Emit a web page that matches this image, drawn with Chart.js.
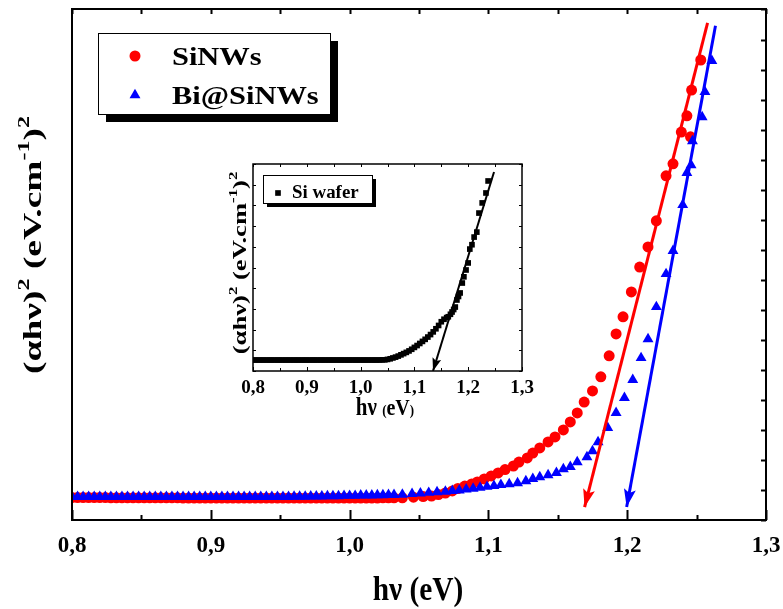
<!DOCTYPE html>
<html>
<head>
<meta charset="utf-8">
<script src="https://cdn.jsdelivr.net/npm/chart.js@4.4.0/dist/chart.umd.min.js"></script>
<style>
  html, body { margin: 0; padding: 0; background: #fff; }
  #wrap { position: relative; width: 783px; height: 609px; }
  #main { position: absolute; left: 0; top: 0; }
  #inset { position: absolute; left: 200px; top: 150px; }
</style>
</head>
<body>
<div id="wrap">
  <canvas id="main" width="783" height="609"></canvas>
  <canvas id="inset" width="340" height="270"></canvas>
</div>
<script>
// ---- main plot data (hv in eV, (alpha hv)^2 in arbitrary units) ----
const flatEnergy = [
  0.800, 0.804, 0.808, 0.812, 0.816, 0.820, 0.824, 0.828, 0.832, 0.836,
  0.840, 0.844, 0.848, 0.852, 0.856, 0.860, 0.864, 0.868, 0.872, 0.876,
  0.880, 0.884, 0.888, 0.892, 0.896, 0.900, 0.904, 0.908, 0.912, 0.916,
  0.920, 0.924, 0.928, 0.932, 0.936, 0.940, 0.944, 0.948, 0.952, 0.956,
  0.960, 0.964, 0.968, 0.972, 0.976, 0.980, 0.984, 0.988, 0.992, 0.996,
  1.000, 1.004, 1.008, 1.012, 1.016, 1.020, 1.024, 1.028, 1.032
];
const siNWsFlat = [
  0.75, 0.75, 0.75, 0.75, 0.75, 0.75, 0.75, 0.74, 0.74, 0.74,
  0.74, 0.74, 0.74, 0.74, 0.74, 0.74, 0.74, 0.74, 0.74, 0.74,
  0.73, 0.73, 0.73, 0.73, 0.73, 0.73, 0.73, 0.73, 0.73, 0.73,
  0.73, 0.73, 0.73, 0.73, 0.73, 0.73, 0.73, 0.73, 0.73, 0.73,
  0.73, 0.73, 0.73, 0.73, 0.73, 0.73, 0.73, 0.73, 0.73, 0.73,
  0.73, 0.73, 0.73, 0.73, 0.73, 0.73, 0.74, 0.74, 0.74
];
const biFlat = [
  0.77, 0.77, 0.77, 0.77, 0.77, 0.77, 0.77, 0.77, 0.77, 0.77,
  0.77, 0.77, 0.77, 0.77, 0.77, 0.77, 0.77, 0.77, 0.77, 0.77,
  0.77, 0.77, 0.77, 0.77, 0.77, 0.77, 0.77, 0.77, 0.77, 0.77,
  0.77, 0.77, 0.77, 0.77, 0.77, 0.77, 0.77, 0.77, 0.77, 0.77,
  0.78, 0.78, 0.78, 0.79, 0.79, 0.79, 0.80, 0.80, 0.80, 0.81,
  0.81, 0.81, 0.82, 0.82, 0.82, 0.83, 0.83, 0.84, 0.84
];
const siNWsEnergy = [
  1.038, 1.046, 1.053, 1.059, 1.064, 1.069, 1.074, 1.078, 1.083, 1.088,
  1.092, 1.097, 1.102, 1.107, 1.112, 1.118, 1.122, 1.128, 1.132, 1.137,
  1.143, 1.148, 1.154, 1.159, 1.164, 1.169, 1.175, 1.181, 1.187, 1.192,
  1.197, 1.203, 1.209, 1.215, 1.221, 1.228, 1.233, 1.239, 1.243, 1.2456,
  1.2464, 1.253
];
const siNWsValues = [
  0.74, 0.76, 0.78, 0.80, 0.85, 0.90, 0.97, 1.05, 1.13, 1.20,
  1.27, 1.37, 1.47, 1.57, 1.68, 1.80, 1.93, 2.07, 2.23, 2.40,
  2.60, 2.77, 3.00, 3.27, 3.57, 3.93, 4.30, 4.77, 5.47, 6.20,
  6.77, 7.60, 8.43, 9.10, 9.97, 11.47, 11.87, 12.93, 13.47, 12.77,
  14.33, 15.33
];
const biEnergy = [
  1.038, 1.045, 1.051, 1.057, 1.063, 1.069, 1.074, 1.079, 1.084, 1.089,
  1.094, 1.099, 1.104, 1.109, 1.115, 1.121, 1.127, 1.132, 1.137, 1.143,
  1.149, 1.154, 1.159, 1.164, 1.171, 1.175, 1.179, 1.186, 1.192, 1.198,
  1.204, 1.210, 1.215, 1.221, 1.228, 1.233, 1.240, 1.243, 1.246, 1.247,
  1.254, 1.256, 1.261
];
const biValues = [
  0.85, 0.87, 0.89, 0.91, 0.93, 0.95, 0.97, 0.99, 1.02, 1.05,
  1.08, 1.11, 1.14, 1.17, 1.20, 1.23, 1.30, 1.37, 1.43, 1.50,
  1.57, 1.70, 1.77, 1.93, 2.10, 2.30, 2.60, 3.07, 3.57, 4.07,
  4.67, 5.40, 6.03, 7.10, 8.20, 8.97, 10.50, 11.57, 11.83, 12.63,
  13.43, 14.27, 15.30
];
// linear fits, first point = arrow tip on the energy axis
const siNWsFitX = [1.1693, 1.2579];
const siNWsFitY = [0.43, 16.57];
const biFitX = [1.1996, 1.2636];
const biFitY = [0.43, 16.47];

// ---- inset data (Si wafer) ----
const waferFlatEnergy = [
  0.800, 0.805, 0.810, 0.815, 0.820, 0.825, 0.830, 0.835, 0.840, 0.845,
  0.850, 0.855, 0.860, 0.865, 0.870, 0.875, 0.880, 0.885, 0.890, 0.895,
  0.900, 0.905, 0.910, 0.915, 0.920, 0.925, 0.930, 0.935, 0.940, 0.945,
  0.950, 0.955, 0.960, 0.965, 0.970, 0.975, 0.980, 0.985, 0.990, 0.995,
  1.000, 1.005, 1.010, 1.015, 1.020, 1.025, 1.030, 1.035, 1.040, 1.045
];
const waferFlat = [
  0.53, 0.53, 0.53, 0.53, 0.53, 0.53, 0.53, 0.53, 0.53, 0.53,
  0.53, 0.53, 0.53, 0.53, 0.53, 0.53, 0.53, 0.53, 0.53, 0.53,
  0.53, 0.53, 0.53, 0.53, 0.53, 0.53, 0.53, 0.53, 0.53, 0.53,
  0.53, 0.53, 0.53, 0.53, 0.53, 0.53, 0.53, 0.53, 0.53, 0.53,
  0.53, 0.53, 0.53, 0.53, 0.53, 0.53, 0.53, 0.53, 0.54, 0.54
];
const waferEnergy = [
  1.050, 1.055, 1.060, 1.065, 1.070, 1.075, 1.080, 1.085, 1.090, 1.095,
  1.100, 1.105, 1.110, 1.115, 1.120, 1.125, 1.130, 1.135, 1.140, 1.145,
  1.150, 1.155, 1.160, 1.163, 1.167, 1.170, 1.173, 1.176, 1.179, 1.182,
  1.185, 1.189, 1.192, 1.196, 1.200, 1.203, 1.207, 1.211, 1.216, 1.220,
  1.226, 1.233, 1.237
];
const waferValues = [
  0.56, 0.59, 0.63, 0.67, 0.72, 0.78, 0.84, 0.90, 0.97, 1.05,
  1.14, 1.23, 1.33, 1.43, 1.53, 1.64, 1.76, 1.89, 2.04, 2.20,
  2.38, 2.50, 2.58, 2.62, 2.74, 2.85, 2.97, 3.09, 3.43, 3.60,
  3.77, 4.25, 4.55, 4.88, 5.22, 5.89, 6.10, 6.47, 6.71, 7.63,
  8.12, 8.60, 9.18
];
const waferFitX = [1.1346, 1.2480];
const waferFitY = [0.0, 9.61];

const seriesNames = ['SiNWs', 'Bi@SiNWs'];
const insetName = 'Si wafer';

const RED = 'rgb(255,0,0)';
const BLUE = 'rgb(0,0,255)';
const SERIF = "'Liberation Serif', 'Times New Roman', serif";

Chart.defaults.font.family = SERIF;
Chart.defaults.font.weight = 'bold';
Chart.defaults.color = '#000';

function toPoints(xs, ys) {
  return xs.map((x, i) => ({ x: x, y: ys[i] }));
}

function isMajor(v) {
  return Math.abs(v * 10 - Math.round(v * 10)) < 1e-6;
}

function commaLabel(v) {
  return isMajor(v) ? v.toFixed(1).replace('.', ',') : '';
}

// text made of pieces of different size / raise (superscripts)
function drawRich(ctx, t) {
  ctx.save();
  ctx.translate(t.x, t.y);
  if (t.vertical) ctx.rotate(-Math.PI / 2);
  ctx.scale(t.sx || 1, t.sy || 1);
  ctx.fillStyle = '#000';
  ctx.textBaseline = 'alphabetic';
  let total = 0;
  t.parts.forEach(p => {
    ctx.font = 'bold ' + p[1] + 'px ' + SERIF;
    total += ctx.measureText(p[0]).width;
  });
  let x = -total / 2;
  t.parts.forEach(p => {
    ctx.font = 'bold ' + p[1] + 'px ' + SERIF;
    ctx.fillText(p[0], x, p[2]);
    x += ctx.measureText(p[0]).width;
  });
  ctx.restore();
}

// frame + inward ticks
const frameTicks = {
  id: 'frameTicks',
  afterDatasetsDraw(chart, args, opts) {
    const { ctx, chartArea: a, scales: { x, y } } = chart;
    ctx.save();
    ctx.strokeStyle = '#000';
    ctx.lineWidth = opts.tickWidth;
    ctx.beginPath();
    x.ticks.forEach(t => {
      const px = Math.round(x.getPixelForValue(t.value)) + 0.5;
      const len = isMajor(t.value) ? opts.major : opts.minor;
      ctx.moveTo(px, a.bottom);
      ctx.lineTo(px, a.bottom - len);
      ctx.moveTo(px, a.top);
      ctx.lineTo(px, a.top + opts.minor);
    });
    y.ticks.forEach(t => {
      const py = Math.round(y.getPixelForValue(t.value)) + 0.5;
      ctx.moveTo(a.right, py);
      ctx.lineTo(a.right - opts.yTick, py);
      if (opts.leftTicks) {
        ctx.moveTo(a.left, py);
        ctx.lineTo(a.left + opts.yTick, py);
      }
    });
    ctx.stroke();
    ctx.lineWidth = opts.frameWidth;
    ctx.strokeRect(a.left, a.top, a.right - a.left, a.bottom - a.top);
    ctx.restore();
  }
};

// arrow head at the first point of every fit line
const arrowHeads = {
  id: 'arrowHeads',
  afterDatasetsDraw(chart, args, opts) {
    const ctx = chart.ctx;
    chart.data.datasets.forEach((ds, i) => {
      if (!ds.arrow) return;
      const pts = chart.getDatasetMeta(i).data;
      const tip = pts[0], from = pts[1];
      const ang = Math.atan2(tip.y - from.y, tip.x - from.x);
      const L = opts.length, W = opts.width;
      ctx.save();
      ctx.translate(tip.x, tip.y);
      ctx.rotate(ang);
      ctx.fillStyle = ds.borderColor;
      ctx.beginPath();
      ctx.moveTo(0, 0);
      ctx.lineTo(-L, -W / 2);
      ctx.lineTo(-L * 0.8, 0);
      ctx.lineTo(-L, W / 2);
      ctx.closePath();
      ctx.fill();
      ctx.restore();
    });
  }
};

// boxed legend with a solid drop shadow
const shadowLegend = {
  id: 'shadowLegend',
  afterDraw(chart, args, opts) {
    const { ctx, chartArea: a } = chart;
    const bx = a.left + opts.dx, by = a.top + opts.dy;
    ctx.save();
    ctx.fillStyle = '#000';
    ctx.fillRect(bx + opts.shadow, by + opts.shadow, opts.w, opts.h);
    ctx.fillStyle = '#fff';
    ctx.fillRect(bx, by, opts.w, opts.h);
    ctx.strokeStyle = '#000';
    ctx.lineWidth = 1;
    ctx.strokeRect(bx + 0.5, by + 0.5, opts.w, opts.h);
    opts.items.forEach((item, k) => {
      const ds = chart.data.datasets[item];
      const rowY = by + opts.firstRow + k * opts.rowGap;
      ctx.fillStyle = ds.backgroundColor;
      Chart.helpers.drawPoint(ctx, {
        pointStyle: ds.pointStyle, radius: ds.pointRadius, rotation: 0, borderWidth: 0
      }, bx + opts.markerX, rowY + opts.markerDy);
      ctx.save();
      ctx.fillStyle = '#000';
      ctx.font = 'bold ' + opts.fontSize + 'px ' + SERIF;
      ctx.textBaseline = 'alphabetic';
      ctx.translate(bx + opts.textX, rowY + opts.baseDy);
      ctx.scale(opts.stretch, 1);
      ctx.fillText(ds.label, 0, 0);
      ctx.restore();
    });
    ctx.restore();
  }
};

const axisTitles = {
  id: 'axisTitles',
  afterDraw(chart, args, opts) {
    opts.titles.forEach(t => drawRich(chart.ctx, t));
  }
};

// ---------------- main chart ----------------
new Chart(document.getElementById('main'), {
  type: 'scatter',
  data: {
    datasets: [
      { label: 'SiNWs fit', data: toPoints(siNWsFitX, siNWsFitY), showLine: true,
        borderColor: RED, borderWidth: 3, pointRadius: 0, order: 0, arrow: true },
      { label: 'Bi@SiNWs fit', data: toPoints(biFitX, biFitY), showLine: true,
        borderColor: BLUE, borderWidth: 3, pointRadius: 0, order: 0, arrow: true },
      { label: seriesNames[0],
        data: toPoints(flatEnergy.concat(siNWsEnergy), siNWsFlat.concat(siNWsValues)),
        pointStyle: 'circle', pointRadius: 5.5, backgroundColor: RED, borderWidth: 0, order: 2 },
      { label: seriesNames[1],
        data: toPoints(flatEnergy.concat(biEnergy), biFlat.concat(biValues)),
        pointStyle: 'triangle', pointRadius: 6.3, backgroundColor: BLUE, borderWidth: 0, order: 1 }
    ]
  },
  options: {
    responsive: false,
    animation: false,
    layout: { padding: { top: 9, right: 17, left: 0, bottom: 0 } },
    plugins: {
      legend: { display: false },
      tooltip: { enabled: false },
      frameTicks: { tickWidth: 2, frameWidth: 2, major: 10, minor: 5, yTick: 5, leftTicks: false },
      arrowHeads: { length: 18, width: 12 },
      shadowLegend: {
        dx: 26, dy: 24, w: 232, h: 81, shadow: 8, items: [2, 3],
        firstRow: 23, rowGap: 39, markerX: 37, markerDy: 0, textX: 74, baseDy: 9,
        fontSize: 26, stretch: 1.17
      },
      axisTitles: {
        titles: [
          { vertical: true, x: 41, y: 245, sx: 1.5, sy: 1, parts: [
            ['(\u03b1h\u03bd)', 25, 0], ['2', 16, -12], [' (eV.cm', 25, 0],
            ['-1', 16, -12], [')', 25, 0], ['2', 16, -12]] },
          { vertical: false, x: 418, y: 600, sx: 1.05, sy: 1.2, parts: [
            ['h\u03bd (eV)', 28, 0]] }
        ]
      }
    },
    scales: {
      x: {
        type: 'linear', min: 0.8, max: 1.3,
        grid: { display: false, drawTicks: false },
        border: { display: false },
        ticks: { stepSize: 0.05, autoSkip: false, maxRotation: 0, padding: 12,
                 font: { size: 23, weight: 'bold' }, callback: commaLabel },
        afterFit(scale) { scale.height = 89; scale.paddingLeft = 0; scale.paddingRight = 0; }
      },
      y: {
        min: 0, max: 17.03,
        grid: { display: false, drawTicks: false },
        border: { display: false },
        ticks: { display: false, stepSize: 1 },
        afterFit(scale) { scale.width = 72; }
      }
    }
  },
  plugins: [frameTicks, arrowHeads, shadowLegend, axisTitles]
});

// ---------------- inset chart ----------------
new Chart(document.getElementById('inset'), {
  type: 'scatter',
  data: {
    datasets: [
      { label: 'fit', data: toPoints(waferFitX, waferFitY), showLine: true,
        borderColor: '#000', borderWidth: 2, pointRadius: 0, order: 0, arrow: true },
      { label: insetName,
        data: toPoints(waferFlatEnergy.concat(waferEnergy), waferFlat.concat(waferValues)),
        pointStyle: 'rect', pointRadius: 4, backgroundColor: '#000', borderWidth: 0, order: 1 }
    ]
  },
  options: {
    responsive: false,
    animation: false,
    layout: { padding: { top: 14, right: 18, left: 0, bottom: 0 } },
    plugins: {
      legend: { display: false },
      tooltip: { enabled: false },
      frameTicks: { tickWidth: 1, frameWidth: 1.5, major: 4, minor: 3, yTick: 3, leftTicks: true },
      arrowHeads: { length: 13, width: 9 },
      shadowLegend: {
        dx: 10, dy: 11, w: 109, h: 28, shadow: 4, items: [1],
        firstRow: 0, rowGap: 0, markerX: 15, markerDy: 18, textX: 29, baseDy: 23,
        fontSize: 18, stretch: 1.05
      },
      axisTitles: {
        titles: [
          { vertical: true, x: 46, y: 113, sx: 1.4, sy: 1, parts: [
            ['(\u03b1h\u03bd)', 19, 0], ['2', 12, -9], [' (eV.cm', 19, 0],
            ['-1', 12, -9], [')', 19, 0], ['2', 12, -9]] },
          { vertical: false, x: 185, y: 265, sx: 1, sy: 1.15, parts: [
            ['h\u03bd ', 21, 0], ['(', 13, 0], ['eV', 20, 0], [')', 13, 0]] }
        ]
      }
    },
    scales: {
      x: {
        type: 'linear', min: 0.8, max: 1.3,
        grid: { display: false, drawTicks: false },
        border: { display: false },
        ticks: { stepSize: 0.05, autoSkip: false, maxRotation: 0, padding: 6,
                 font: { size: 19, weight: 'bold' }, callback: commaLabel },
        afterFit(scale) { scale.height = 49; scale.paddingLeft = 0; scale.paddingRight = 0; }
      },
      y: {
        min: 0, max: 10,
        grid: { display: false, drawTicks: false },
        border: { display: false },
        ticks: { display: false, stepSize: 1 },
        afterFit(scale) { scale.width = 53; }
      }
    }
  },
  plugins: [frameTicks, arrowHeads, shadowLegend, axisTitles]
});
</script>
</body>
</html>
